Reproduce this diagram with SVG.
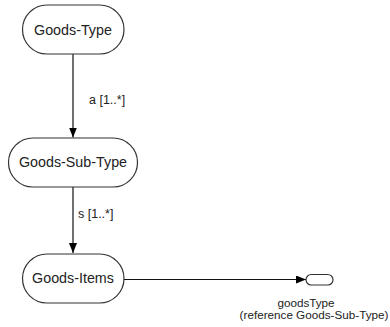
<svg xmlns="http://www.w3.org/2000/svg" width="390" height="327" viewBox="0 0 390 327">
  <defs>
    <marker id="arrow" viewBox="0 0 10 8" refX="10" refY="4" markerWidth="10" markerHeight="8" markerUnits="userSpaceOnUse" orient="auto">
      <path d="M0,0 L10,4 L0,8 Z" fill="#000"/>
    </marker>
    <style>
      .node rect { fill: #fff; stroke: #333; stroke-width: 1.2; }
      .node text { font-family: "Liberation Sans", Arial, sans-serif; font-size: 14.3px; fill: #222; text-anchor: middle; }
      .edge { stroke: #111; stroke-width: 1.2; fill: none; }
      .lbl { font-family: "Liberation Sans", Arial, sans-serif; font-size: 12.5px; fill: #222; }
      .note { font-family: "Liberation Sans", Arial, sans-serif; font-size: 11.7px; fill: #222; text-anchor: middle; }
    </style>
  </defs>
  <rect width="390" height="327" fill="#fff"/>

  <!-- connectors -->
  <g id="connectors">
    <line class="edge" x1="73" y1="54" x2="73" y2="137.5" marker-end="url(#arrow)"/>
    <text class="lbl" x="89" y="103.5">a [1..*]</text>
    <line class="edge" x1="73" y1="187" x2="73" y2="253" marker-end="url(#arrow)"/>
    <text class="lbl" x="78" y="217.5">s [1..*]</text>
    <line class="edge" x1="124" y1="279.5" x2="306" y2="279.5" marker-end="url(#arrow)"/>
  </g>

  <!-- nodes -->
  <g id="goods-type" class="node">
    <rect x="22.5" y="5" width="101.5" height="49" rx="24.5" ry="24.5"/>
    <text x="73" y="34.5">Goods-Type</text>
  </g>
  <g id="goods-sub-type" class="node">
    <rect x="8.5" y="138" width="129" height="49" rx="24.5" ry="24.5"/>
    <text x="73" y="167">Goods-Sub-Type</text>
  </g>
  <g id="goods-items" class="node">
    <rect x="22.5" y="254" width="101.5" height="49" rx="24.5" ry="24.5"/>
    <text x="73" y="283">Goods-Items</text>
  </g>
  <g id="goods-type-ref">
    <rect x="306" y="274.5" width="27" height="10.5" rx="5.25" ry="5.25" fill="#fff" stroke="#333" stroke-width="1.2"/>
    <text class="note" x="306" y="307">goodsType</text>
    <text class="note" x="314" y="319">(reference Goods-Sub-Type)</text>
  </g>
</svg>
